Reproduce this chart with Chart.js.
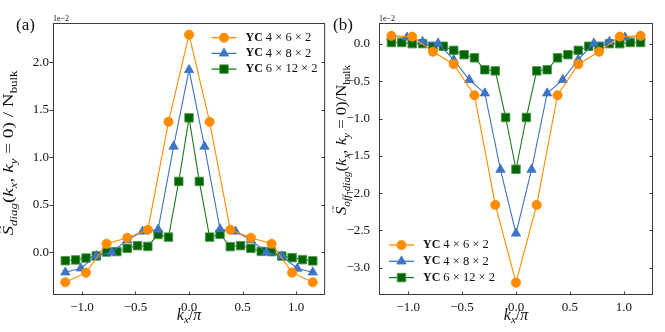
<!DOCTYPE html>
<html>
<head>
<meta charset="utf-8">
<script src="https://cdn.jsdelivr.net/npm/chart.js@4"></script>
<style>
  body { margin: 0; background: #fff; width: 665px; height: 332px; overflow: hidden; position: relative; }
  .panel { position: absolute; top: 0; }
</style>
</head>
<body>
<div class="panel" style="left:0"><canvas id="chart_a" width="332" height="332"></canvas></div>
<div class="panel" style="left:332px"><canvas id="chart_b" width="333" height="332"></canvas></div>
<script>
// kx / pi for each cluster width
var kx6 = [-1.155, -0.962, -0.770, -0.577, -0.385, -0.192, 0, 0.192, 0.385, 0.577, 0.770, 0.962, 1.155];
var kx8 = [-1.155, -1.010, -0.866, -0.722, -0.577, -0.433, -0.289, -0.144, 0, 0.144, 0.289, 0.433, 0.577, 0.722, 0.866, 1.010, 1.155];
var kx12 = [-1.155, -1.059, -0.962, -0.866, -0.770, -0.674, -0.577, -0.481, -0.385, -0.289, -0.192, -0.096, 0,
            0.096, 0.192, 0.289, 0.385, 0.481, 0.577, 0.674, 0.770, 0.866, 0.962, 1.059, 1.155];

// (a) diagonal structure factor, units of 1e-2
var diag6 = [-0.315, -0.214, 0.090, 0.153, 0.237, 1.373, 2.290, 1.373, 0.237, 0.153, 0.090, -0.214, -0.315];
var diag8 = [-0.210, -0.168, -0.035, 0.000, 0.130, 0.220, 0.240, 1.114, 1.920, 1.114, 0.245, 0.220, 0.130, 0.000, -0.040, -0.170, -0.210];
var diag12 = [-0.088, -0.080, -0.060, -0.038, 0.003, 0.008, 0.042, 0.070, 0.062, 0.188, 0.160, 0.746, 1.415,
              0.746, 0.160, 0.190, 0.060, 0.070, 0.042, 0.010, 0.007, -0.040, -0.056, -0.077, -0.090];

// (b) off-diagonal structure factor, units of 1e-2
var off6 = [0.110, 0.098, -0.103, -0.270, -0.687, -2.158, -3.200, -2.158, -0.687, -0.270, -0.103, 0.098, 0.110];
var off8 = [0.100, 0.090, 0.030, 0.010, -0.214, -0.480, -0.660, -1.685, -2.540, -1.685, -0.660, -0.480, -0.210, 0.010, 0.030, 0.090, 0.100];
var off12 = [0.020, 0.020, 0.005, 0.005, -0.030, -0.030, -0.085, -0.143, -0.185, -0.345, -0.360, -0.985, -1.680,
             -0.985, -0.360, -0.345, -0.185, -0.143, -0.085, -0.030, -0.030, 0.005, 0.005, 0.020, 0.020];

var seriesNames = ["4 \u00d7 6 \u00d7 2", "4 \u00d7 8 \u00d7 2", "6 \u00d7 12 \u00d7 2"];
var xTicks = [-1.0, -0.5, 0.0, 0.5, 1.0];
var yTicksA = [0.0, 0.5, 1.0, 1.5, 2.0];
var yTicksB = [-3.0, -2.5, -2.0, -1.5, -1.0, -0.5, 0.0];

var SERIF = '"Liberation Serif", "DejaVu Serif", serif';
function rm(n) { return n + 'px ' + SERIF; }
function it(n) { return 'italic ' + n + 'px ' + SERIF; }
function bd(n) { return 'bold ' + n + 'px ' + SERIF; }
function fmt(v) { return (v < 0 ? '\u2212' : '') + Math.abs(v).toFixed(1); }
function pts(xs, ys) { return xs.map(function (x, i) { return { x: x, y: ys[i] }; }); }

// draw a run of text pieces [text, font, dy, tilde], stretched to length len
function rich(c, segs, x, y, rot, len) {
    c.save();
    c.translate(x, y);
    if (rot) c.rotate(-Math.PI / 2);
    c.textBaseline = 'alphabetic';
    c.textAlign = 'left';
    var w = 0;
    segs.forEach(function (s) { c.font = s[1]; w += c.measureText(s[0]).width; });
    if (len) c.scale(len / w, 1);
    var cx = -w / 2;
    segs.forEach(function (s) {
        c.font = s[1];
        var sw = c.measureText(s[0]).width;
        c.fillText(s[0], cx, s[2] || 0);
        if (s[3]) {
            c.font = rm(12);
            c.textAlign = 'center';
            c.fillText('~', cx + sw / 2 + 1.5, -9);
            c.textAlign = 'left';
        }
        cx += sw;
    });
    c.restore();
}

var decor = {
    id: 'decor',
    afterDraw: function (chart) {
        var o = chart.options.plugins.decor;
        var c = chart.ctx, a = chart.chartArea;
        var xs = chart.scales.x, ys = chart.scales.y;
        c.save();
        c.strokeStyle = '#3a3a3a';
        c.lineWidth = 1;
        c.strokeRect(a.left + 0.5, a.top + 0.5, a.right - a.left - 1, a.bottom - a.top - 1);
        c.beginPath();
        xTicks.forEach(function (v) {
            var px = Math.round(xs.getPixelForValue(v)) + 0.5;
            c.moveTo(px, a.bottom); c.lineTo(px, a.bottom - 3.5);
        });
        o.yTicks.forEach(function (v) {
            var py = Math.round(ys.getPixelForValue(v)) + 0.5;
            if (o.leftOut) { c.moveTo(a.left, py); c.lineTo(a.left - 3.5, py); }
            else { c.moveTo(a.left, py); c.lineTo(a.left + 3.5, py); }
            c.moveTo(a.right, py); c.lineTo(a.right - 3.5, py);
        });
        c.stroke();

        c.fillStyle = '#111';
        // panel letter and offset text
        c.font = rm(17);
        c.fillText(o.letter, o.letterX, 30);
        c.font = rm(8);
        c.fillText('1e\u22122', a.left, 21);

        // x title
        rich(c, [['k', it(16)], ['x', it(11), 3], ['/', rm(16)], ['\u03c0', it(16)]], (a.left + a.right) / 2, 320, false, 0);
        // y title
        rich(c, o.ylab, o.ylabX, o.ylabY, true, o.ylabLen);

        // legend
        var lg = o.legend;
        chart.data.datasets.forEach(function (ds, i) {
            var y = lg.y + i * lg.dy;
            c.strokeStyle = ds.borderColor;
            c.lineWidth = 1.3;
            c.beginPath(); c.moveTo(lg.x, y); c.lineTo(lg.x + 25, y); c.stroke();
            c.fillStyle = ds.pointBackgroundColor;
            c.strokeStyle = ds.pointBorderColor;
            c.lineWidth = ds.pointBorderWidth;
            Chart.helpers.drawPoint(c, { pointStyle: ds.pointStyle, radius: ds.pointRadius, borderWidth: ds.pointBorderWidth, rotation: 0 }, lg.x + 12.5, y);
            c.fillStyle = '#111';
            c.textBaseline = 'middle';
            c.font = bd(12);
            c.fillText('YC', lg.tx, y);
            var w = c.measureText('YC ').width;
            c.font = rm(12.5);
            c.fillText(seriesNames[i], lg.tx + w, y);
        });
        c.restore();
    }
};

function makeSets(a6, a8, a12) {
    return [{
        label: "YC " + seriesNames[0],
        data: pts(kx6, a6),
        borderColor: '#ff8c00', backgroundColor: '#ff8c00',
        pointBackgroundColor: '#ff8c00', pointBorderColor: '#ff8c00', pointBorderWidth: 0.8,
        pointStyle: 'circle', pointRadius: 4.6, borderWidth: 1.1
    }, {
        label: "YC " + seriesNames[1],
        data: pts(kx8, a8),
        borderColor: '#3d74c4', backgroundColor: '#3d74c4',
        pointBackgroundColor: '#3d74c4', pointBorderColor: '#3d74c4', pointBorderWidth: 0.8,
        pointStyle: 'triangle', pointRadius: 5.4, borderWidth: 1.1
    }, {
        label: "YC " + seriesNames[2],
        data: pts(kx12, a12),
        borderColor: '#1e7a1e', backgroundColor: '#006400',
        pointBackgroundColor: '#006400', pointBorderColor: '#4c9a4c', pointBorderWidth: 0.9,
        pointStyle: 'rect', pointRadius: 6, borderWidth: 1.1
    }];
}

function makeOpts(yMin, yMax, yTicks, yWidth, yPad, rightPad, extra) {
    return {
        responsive: false,
        animation: false,
        devicePixelRatio: 1,
        layout: { padding: { top: 23, right: rightPad, left: 0, bottom: 0 } },
        elements: { line: { tension: 0 } },
        plugins: { legend: { display: false }, tooltip: { enabled: false }, decor: extra },
        scales: {
            x: {
                type: 'linear', min: -1.27, max: 1.27,
                grid: { display: false, drawTicks: false }, border: { display: false },
                afterBuildTicks: function (s) { s.ticks = xTicks.map(function (v) { return { value: v }; }); },
                afterFit: function (s) { s.height = 37; },
                ticks: { padding: 5, color: '#111', font: { family: SERIF, size: 13 }, callback: fmt, maxRotation: 0 }
            },
            y: {
                type: 'linear', min: yMin, max: yMax,
                grid: { display: false, drawTicks: false }, border: { display: false },
                afterBuildTicks: function (s) { s.ticks = yTicks.map(function (v) { return { value: v }; }); },
                afterFit: function (s) { s.width = yWidth; },
                ticks: { padding: yPad, color: '#111', font: { family: SERIF, size: 13 }, callback: fmt }
            }
        }
    };
}

var ctx = document.getElementById("chart_a");
var myChart = new Chart(ctx, {
    type: 'line',
    data: { datasets: makeSets(diag6, diag8, diag12) },
    options: makeOpts(-0.449, 2.413, yTicksA, 53, 4, 6, {
        letter: '(a)', letterX: 16, leftOut: true, yTicks: yTicksA,
        ylabX: 13, ylabY: 153, ylabLen: 165,
        ylab: [['S', it(15), 0, true], ['diag', it(10), 3.5], ['(', rm(15)], ['k', it(15)], ['x', it(10), 3.5], [', ', rm(15)],
               ['k', it(15)], ['y', it(10), 3.5], [' = 0) / N', rm(15)], ['bulk', rm(10), 3.5]],
        legend: { x: 211.5, y: 37.7, dy: 15.7, tx: 245.5 }
    }),
    plugins: [decor]
});

var ctx = document.getElementById("chart_b");
var myChart = new Chart(ctx, {
    type: 'line',
    data: { datasets: makeSets(off6, off8, off12) },
    options: makeOpts(-3.366, 0.282, yTicksB, 47, 9, 12, {
        letter: '(b)', letterX: 1, leftOut: false, yTicks: yTicksB,
        ylabX: 14, ylabY: 140, ylabLen: 150,
        ylab: [['S', it(15), 0, true], ['off-diag', it(10), 3.5], ['(', rm(15)], ['k', it(15)], ['x', it(10), 3.5], [', ', rm(15)],
               ['k', it(15)], ['y', it(10), 3.5], [' = 0)/N', rm(15)], ['bulk', rm(10), 3.5]],
        legend: { x: 57, y: 245, dy: 16.3, tx: 91 }
    }),
    plugins: [decor]
});
</script>
</body>
</html>
